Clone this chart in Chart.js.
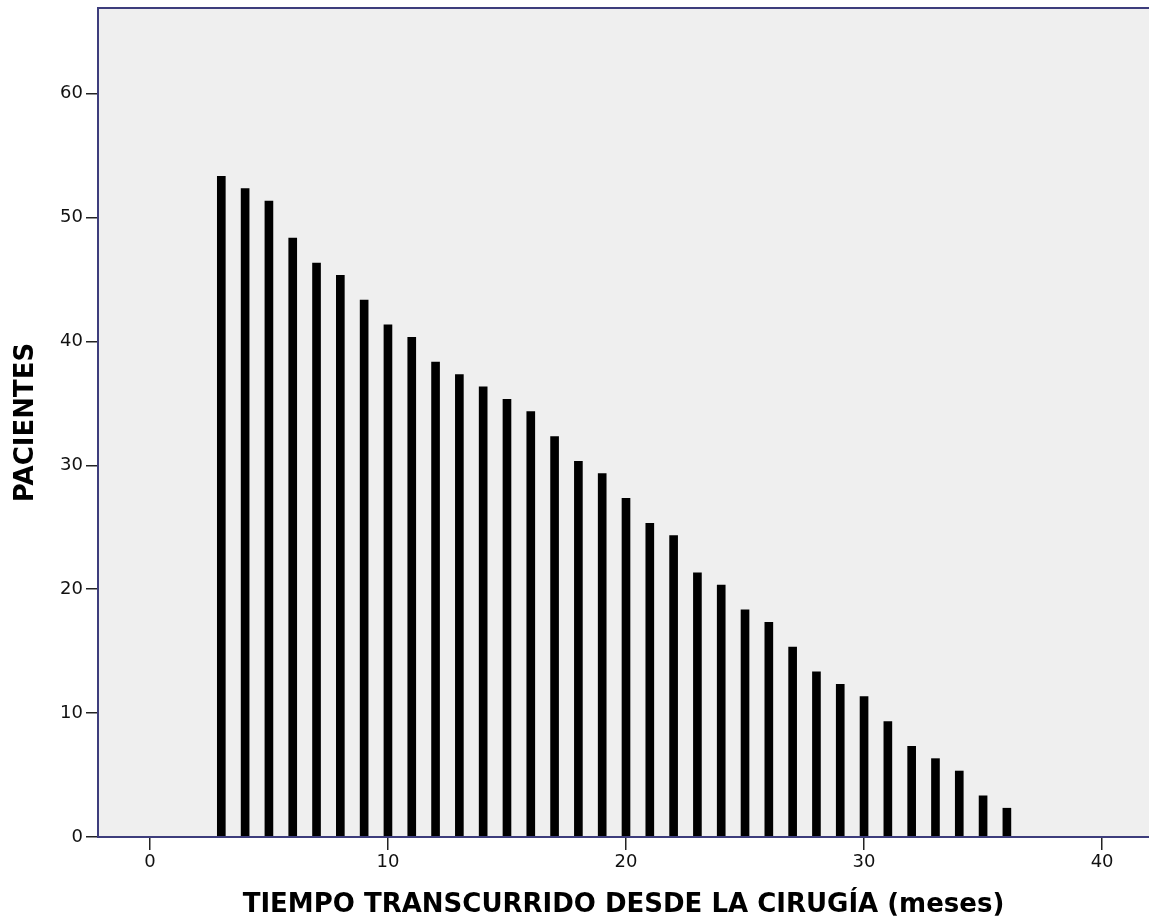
<!DOCTYPE html>
<html>
<head>
<meta charset="utf-8">
<script src="https://cdn.jsdelivr.net/npm/chart.js@4/dist/chart.umd.min.js"></script>
<style>
  html, body { margin: 0; padding: 0; background: #ffffff; }
  #wrap { width: 1149px; height: 921px; }
</style>
</head>
<body>
<div id="wrap"><canvas id="c" width="1149" height="921"></canvas></div>
<script>
// ---- data ----
const months = [3,4,5,6,7,8,9,10,11,12,13,14,15,16,17,18,19,20,21,22,23,24,25,26,27,28,29,30,31,32,33,34,35,36];
const patients = [53,52,51,48,46,45,43,41,40,38,37,36,35,34,32,30,29,27,25,24,21,20,18,17,15,13,12,11,9,7,6,5,3,2];
const xTickValues = [0,10,20,30,40];
const yTickValues = [0,10,20,30,40,50,60];
const xTitle = 'TIEMPO TRANSCURRIDO DESDE LA CIRUGÍA (meses)';
const yTitle = 'PACIENTES';

const frameColor = '#3d3d7c';

const framePlugin = {
  id: 'frame',
  afterDatasetsUpdate(chart) {
    // square line-cap look: bar tops extend half the bar width above the value
    chart.getDatasetMeta(0).data.forEach(el => { el.y -= 4; });
  },
  beforeDatasetsDraw(chart) {
    const {ctx, chartArea: a} = chart;
    ctx.save();
    ctx.fillStyle = '#efefef';
    ctx.fillRect(a.left, a.top, a.right - a.left + 10, a.bottom - a.top);
    ctx.restore();
  },
  afterDatasetsDraw(chart) {
    const {ctx, chartArea: a} = chart;
    ctx.save();
    ctx.strokeStyle = frameColor;
    ctx.lineWidth = 2;
    ctx.beginPath();
    ctx.moveTo(a.right + 10, a.top);
    ctx.lineTo(a.left, a.top);
    ctx.lineTo(a.left, a.bottom);
    ctx.lineTo(a.right + 10, a.bottom);
    ctx.stroke();
    ctx.restore();
  }
};

new Chart(document.getElementById('c'), {
  type: 'bar',
  data: {
    datasets: [{
      data: months.map((m, i) => ({x: m, y: patients[i]})),
      backgroundColor: '#000000',
      borderWidth: 0,
      barThickness: 8
    }]
  },
  options: {
    responsive: false,
    animation: false,
    devicePixelRatio: 1,
    layout: { padding: { top: 8, right: 0, left: 0, bottom: 0 } },
    plugins: { legend: { display: false }, tooltip: { enabled: false } },
    scales: {
      x: {
        type: 'linear',
        min: -2.18,
        max: 41.97,
        offset: false,
        afterBuildTicks(s) { s.ticks = xTickValues.map(v => ({value: v})); },
        afterFit(s) { s.height = 84; s.paddingLeft = 0; s.paddingRight = 0; },
        grid: { offset: false, drawOnChartArea: false, drawTicks: true, tickLength: 13, color: '#222222', lineWidth: 1.5 },
        border: { display: false },
        ticks: { padding: 2, color: '#111111', font: { family: 'DejaVu Sans', size: 18 }, maxRotation: 0 },
        title: { display: true, text: xTitle, color: '#000000', padding: { top: 0, bottom: 0 },
                 font: { family: 'DejaVu Sans', size: 26, weight: 'bold', lineHeight: 1.2 } }
      },
      y: {
        type: 'linear',
        min: 0,
        max: 66.9,
        afterBuildTicks(s) { s.ticks = yTickValues.map(v => ({value: v})); },
        afterFit(s) { s.width = 98; s.paddingTop = 0; s.paddingBottom = 0; },
        grid: { drawOnChartArea: false, drawTicks: true, tickLength: 12, color: '#222222', lineWidth: 1.5 },
        border: { display: false },
        ticks: { padding: 3, color: '#111111', font: { family: 'DejaVu Sans', size: 18 } },
        title: { display: true, text: yTitle, color: '#000000', padding: { top: 11, bottom: 0 },
                 font: { family: 'DejaVu Sans', size: 26, weight: 'bold', lineHeight: 1.2 } }
      }
    }
  },
  plugins: [framePlugin]
});
</script>
</body>
</html>
